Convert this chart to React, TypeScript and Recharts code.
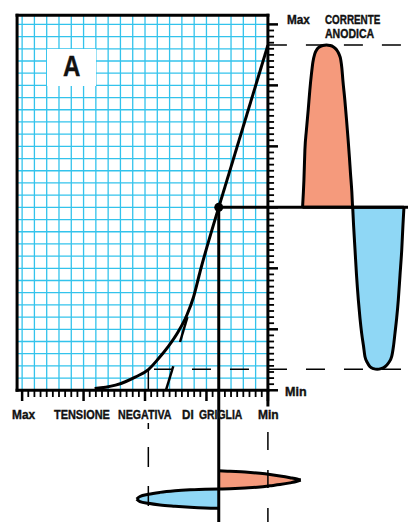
import React from 'react';
import { ComposedChart, Line, Area, XAxis, YAxis, ReferenceLine, ReferenceDot } from 'recharts';

// units: one grid division. x = grid voltage (0 = Max negative, 20 = Min), y = anode current (0 = Min, 30 = Max)
// to the right of x = 20 the anode current is drawn against time, below y = 0 the grid signal against time

const transferCurve: [number, number][] = [
  [5.9, 0.15], [6.8, 0.25], [7.6, 0.42], [8.4, 0.7], [9.2, 1.08], [10.3, 1.72], [11.1, 2.6],
  [11.9, 3.6], [12.7, 4.8], [13.4, 6.15], [13.95, 7.65], [14.5, 9.8], [16, 15],
];
const linearPart: [number, number][] = [[16, 15], [20, 28.3]];
const shiftMarkUpper: [number, number][] = [[12.85, 3.96], [13.45, 6.0]];
const shiftMarkLower: [number, number][] = [[11.7, 0], [12.3, 1.97]];

const operatingPoint = { x: 16, y: 15 };
const currentMax = 28.31;
const currentMin = 1.72;
const gridSwingLeft = 10.27;
const gridMin = 20;

// anode current, positive half (time, current)
const anodePositive: [number, number][] = [
  [22.82, 15], [22.93, 17.2], [23.01, 19.7], [23.13, 21.3], [23.28, 23.0], [23.41, 24.6], [23.55, 26.0],
  [23.66, 26.9], [23.82, 27.6], [24.02, 28.0], [24.23, 28.17], [24.47, 28.27], [24.77, 28.31],
  [25.04, 28.27], [25.31, 28.17], [25.57, 27.94], [25.77, 27.6], [25.93, 27.08], [26.02, 26.4],
  [26.1, 25.44], [26.26, 23.8], [26.4, 22.16], [26.53, 20.52], [26.63, 19.13], [26.72, 17.79],
  [26.83, 16.26], [26.89, 15],
];
// anode current, negative half
const anodeNegative: [number, number][] = [
  [26.9, 15], [26.97, 13.55], [27.09, 11.5], [27.21, 9.45], [27.36, 7.4], [27.49, 5.93], [27.63, 4.67],
  [27.78, 3.63], [27.9, 2.75], [28.11, 2.24], [28.31, 1.93], [28.59, 1.77], [28.9, 1.72], [29.2, 1.77],
  [29.53, 1.93], [29.81, 2.24], [30.07, 2.75], [30.22, 3.63], [30.34, 4.67], [30.48, 5.93],
  [30.61, 7.4], [30.75, 9.45], [30.89, 11.5], [30.99, 13.55], [31.07, 15],
];
// grid signal, positive half (voltage, lower edge, upper edge)
const gridPositive: [number, number, number][] = [
  [16, -8.1, -6.59], [16.92, -8.07, -6.64], [18.14, -8.01, -6.7], [19.36, -7.93, -6.81],
  [20.17, -7.83, -6.91], [20.98, -7.73, -7.03], [21.8, -7.59, -7.17], [22.37, -7.46, -7.28],
  [22.67, -7.36, -7.36],
];
// grid signal, negative half
const gridNegative: [number, number, number][] = [
  [9.32, -8.92, -8.92], [9.59, -9.12, -8.71], [10.27, -9.27, -8.53], [11.22, -9.41, -8.37],
  [12.44, -9.51, -8.24], [13.66, -9.59, -8.16], [14.88, -9.65, -8.11], [16, -9.68, -8.1],
];

const voltageDivisions = Array.from({ length: 41 }, (_, i) => i / 2);
const currentDivisions = Array.from({ length: 61 }, (_, i) => i / 2);
const gridColumns = Array.from({ length: 21 }, (_, i) => i);
const gridRows = Array.from({ length: 31 }, (_, i) => i);

const xAxisWords = ['TENSIONE', 'NEGATIVA', 'DI', 'GRIGLIA'];
const yAxisTitle = ['CORRENTE', 'ANODICA'];

const X_DOMAIN: [number, number] = [-1.8, 31.4];
const Y_DOMAIN: [number, number] = [-10.8, 32];
const BOX_LEFT = -0.41;
const BOX_TOP = 30.74;

const GRID_BLUE = '#33c3ec';
const SALMON = '#f59a7c';
const LIGHT_BLUE = '#8fd7f5';

const toPoints = (arr: [number, number][]) => arr.map(([x, y]) => ({ x, y }));
const toRange = (arr: [number, number, number][]) => arr.map(([x, lo, hi]) => ({ x, range: [lo, hi] }));
const seg = (x1: number, y1: number, x2: number, y2: number) => [{ x: x1, y: y1 }, { x: x2, y: y2 }];

const Word = ({ text, left, top, scale, size = 13.5 }: { text: string; left: number; top: number; scale: number; size?: number }) => (
  <div
    style={{
      position: 'absolute',
      left,
      top,
      fontFamily: "'Liberation Sans', Arial, sans-serif",
      fontWeight: 700,
      fontSize: size,
      lineHeight: size + 'px',
      color: '#111',
      WebkitTextStroke: '0.4px #111',
      whiteSpace: 'nowrap',
      transform: `scaleX(${scale})`,
      transformOrigin: 'left top',
    }}
  >
    {text}
  </div>
);

export default function App() {
  return (
    <div style={{ position: 'absolute', left: 0, top: 0, width: 408, height: 522, background: '#fff' }}>
      <ComposedChart width={408} height={522} margin={{ top: 0, right: 0, bottom: 0, left: 0 }}>
        <XAxis type="number" dataKey="x" domain={X_DOMAIN} hide allowDataOverflow />
        <YAxis type="number" domain={Y_DOMAIN} hide allowDataOverflow />

        {gridColumns.map(u => (
          <ReferenceLine key={'gc' + u} segment={seg(u, 0, u, BOX_TOP)} stroke={GRID_BLUE} strokeWidth={1.3} />
        ))}
        {gridRows.map(v => (
          <ReferenceLine key={'gr' + v} segment={seg(BOX_LEFT, v, 20, v)} stroke={GRID_BLUE} strokeWidth={1.3} />
        ))}

        <ReferenceLine segment={seg(BOX_LEFT, BOX_TOP, 20, BOX_TOP)} stroke="#000" strokeWidth={3} strokeLinecap="square" />
        <ReferenceLine segment={seg(BOX_LEFT, 0, BOX_LEFT, BOX_TOP)} stroke="#000" strokeWidth={3} strokeLinecap="square" />
        <ReferenceLine segment={seg(BOX_LEFT, 0, 20, 0)} stroke="#000" strokeWidth={3} strokeLinecap="square" />
        <ReferenceLine segment={seg(20, BOX_TOP, 20, -1.2)} stroke="#000" strokeWidth={3} strokeLinecap="square" />

        {voltageDivisions.map(u => (
          <ReferenceLine key={'tx' + u} segment={seg(u, 0, u, u % 5 === 0 ? -0.88 : -0.55)} stroke="#000" strokeWidth={u % 5 === 0 ? 2.5 : 1.8} />
        ))}
        {currentDivisions.map(v => (
          <ReferenceLine key={'ty' + v} segment={seg(20, v, v % 5 === 0 ? 20.82 : 20.5, v)} stroke="#000" strokeWidth={v % 5 === 0 ? 2.5 : 1.8} />
        ))}

        <ReferenceLine segment={seg(20, currentMax, X_DOMAIN[1], currentMax)} stroke="#000" strokeWidth={1.5} strokeDasharray="19 19" />
        <ReferenceLine segment={seg(10.73, currentMin, X_DOMAIN[1], currentMin)} stroke="#000" strokeWidth={1.5} strokeDasharray="19 19" />
        <ReferenceLine segment={seg(gridSwingLeft, 0, gridSwingLeft, currentMin)} stroke="#000" strokeWidth={1.5} />
        <ReferenceLine segment={seg(gridSwingLeft, -2.68, gridSwingLeft, Y_DOMAIN[0])} stroke="#000" strokeWidth={1.5} strokeDasharray="6 18 20 19 20 19 20" />
        <ReferenceLine segment={seg(gridMin, -3.42, gridMin, Y_DOMAIN[0])} stroke="#000" strokeWidth={1.5} strokeDasharray="18 20" />

        <Area data={toRange(anodePositive.map(([x, y]) => [x, 15, y]))} dataKey="range" type="monotone" fill={SALMON} fillOpacity={1} stroke="#000" strokeWidth={3} isAnimationActive={false} dot={false} activeDot={false} />
        <Area data={toRange(anodeNegative.map(([x, y]) => [x, y, 15]))} dataKey="range" type="monotone" fill={LIGHT_BLUE} fillOpacity={1} stroke="#000" strokeWidth={3} isAnimationActive={false} dot={false} activeDot={false} />
        <Area data={toRange(gridPositive)} dataKey="range" type="monotone" fill={SALMON} fillOpacity={1} stroke="#000" strokeWidth={3} isAnimationActive={false} dot={false} activeDot={false} />
        <Area data={toRange(gridNegative)} dataKey="range" type="monotone" fill={LIGHT_BLUE} fillOpacity={1} stroke="#000" strokeWidth={3} isAnimationActive={false} dot={false} activeDot={false} />

        <Line data={toPoints(transferCurve)} dataKey="y" type="monotone" stroke="#000" strokeWidth={3} dot={false} activeDot={false} isAnimationActive={false} />
        <Line data={toPoints(linearPart)} dataKey="y" type="linear" stroke="#000" strokeWidth={3} dot={false} activeDot={false} isAnimationActive={false} />
        <Line data={toPoints(shiftMarkUpper)} dataKey="y" type="linear" stroke="#000" strokeWidth={2.5} dot={false} activeDot={false} isAnimationActive={false} />
        <Line data={toPoints(shiftMarkLower)} dataKey="y" type="linear" stroke="#000" strokeWidth={2.5} dot={false} activeDot={false} isAnimationActive={false} />

        <ReferenceLine segment={seg(operatingPoint.x, operatingPoint.y, X_DOMAIN[1], operatingPoint.y)} stroke="#000" strokeWidth={3} />
        <ReferenceLine segment={seg(operatingPoint.x, operatingPoint.y, operatingPoint.x, Y_DOMAIN[0])} stroke="#000" strokeWidth={3} />
        <ReferenceDot x={operatingPoint.x} y={operatingPoint.y} r={4.5} fill="#000" stroke="none" />
      </ComposedChart>

      <div style={{ position: 'absolute', left: 47, top: 49, width: 49, height: 37, background: '#fff' }} />
      <Word text="A" left={62.5} top={51.5} scale={0.83} size={29} />

      <Word text="Max" left={11.7} top={407.8} scale={0.88} />
      <Word text={xAxisWords[0]} left={54} top={407.8} scale={0.81} />
      <Word text={xAxisWords[1]} left={118.3} top={407.8} scale={0.79} />
      <Word text={xAxisWords[2]} left={181.7} top={407.8} scale={0.86} />
      <Word text={xAxisWords[3]} left={199.3} top={407.8} scale={0.77} />
      <Word text="Min" left={257.7} top={407.8} scale={0.89} />

      <Word text="Max" left={286.7} top={12.8} scale={0.87} />
      <Word text={yAxisTitle[0]} left={325} top={12.8} scale={0.73} />
      <Word text={yAxisTitle[1]} left={325} top={26.8} scale={0.78} />
      <Word text="Min" left={285} top={384.8} scale={0.93} />
    </div>
  );
}
